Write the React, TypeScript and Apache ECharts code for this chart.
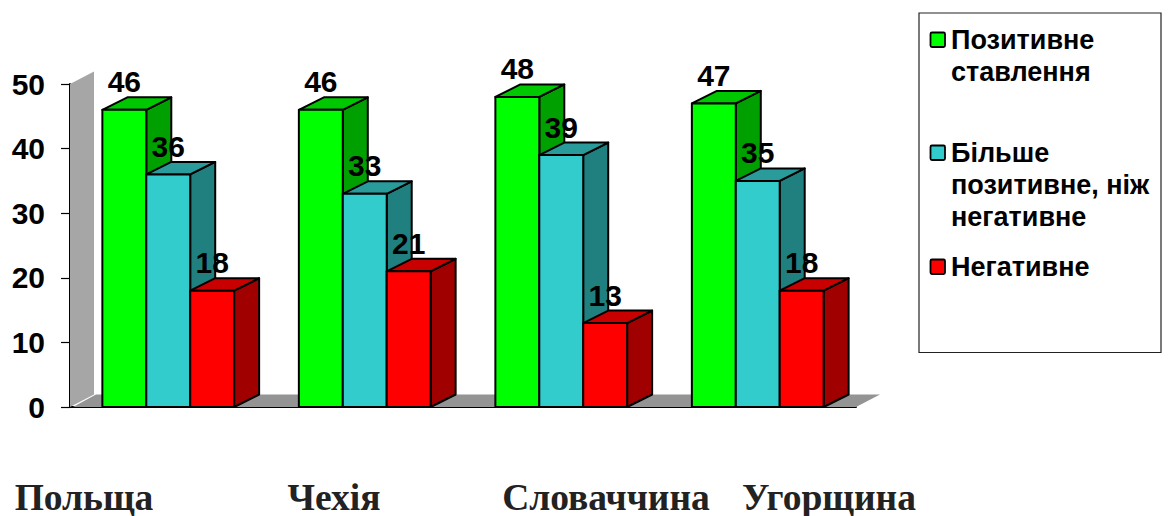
import React, { useEffect, useRef } from "react";
import * as echarts from "echarts";

const countries = ["Польща", "Чехія", "Словаччина", "Угорщина"];
const countryLabelX = [84, 334, 606, 829];
const positive = [46, 46, 48, 47];
const ratherPositive = [36, 33, 39, 35];
const negative = [18, 21, 13, 18];
const yTicks = { min: 0, max: 50, interval: 10 };

const palette = [
  { front: "#00ff00", top: "#00c800", side: "#00a000" },
  { front: "#33cccc", top: "#299b9b", side: "#208080" },
  { front: "#ff0000", top: "#c80000", side: "#a00000" },
];

const legendRows = [
  { lines: ["Позитивне", "ставлення"], y: 40 },
  { lines: ["Більше", "позитивне, ніж", "негативне"], y: 153 },
  { lines: ["Негативне"], y: 267 },
];

const DEPTH_X = 25;
const DEPTH_Y = 12.5;
const SANS = '"Liberation Sans", Arial, sans-serif';
const SERIF = '"Liberation Serif", "Times New Roman", serif';

// Side wall and floor of the pseudo-3D plot box.
const renderBackdrop = (params: any, api: any) => {
  const { x, y, width, height } = params.coordSys;
  const bottom = y + height;
  const right = x + width;
  return {
    type: "group",
    children: [
      {
        type: "polygon",
        shape: {
          points: [
            [x, y],
            [x + DEPTH_X - 1, y - DEPTH_Y],
            [x + DEPTH_X - 1, bottom - DEPTH_Y],
            [x, bottom],
          ],
        },
        style: { fill: "#a6a6a6" },
      },
      {
        type: "polygon",
        shape: {
          points: [
            [x + 3, bottom],
            [x + DEPTH_X + 1, bottom - DEPTH_Y],
            [right + DEPTH_X - 1, bottom - DEPTH_Y],
            [right, bottom],
          ],
        },
        style: { fill: "#949494" },
      },
    ],
  };
};

// One extruded bar: side and top faces, front face, then the value above it.
const makeBarRenderer = (seriesPos: number) => (params: any, api: any) => {
  const cat = api.value(0);
  const val = api.value(1);
  const [cx, yTop] = api.coord([cat, val]);
  const [, yBase] = api.coord([cat, 0]);
  const band = api.size([1, 0])[0];
  const w = band * 0.2235;
  const x0 = cx + (seriesPos - 1.5) * w;
  const x1 = x0 + w;
  const c = palette[seriesPos];
  const edge = { stroke: "#000", lineWidth: 2, lineJoin: "round" };
  return {
    type: "group",
    children: [
      {
        type: "polygon",
        shape: {
          points: [
            [x1, yTop],
            [x1 + DEPTH_X, yTop - DEPTH_Y],
            [x1 + DEPTH_X, yBase - DEPTH_Y],
            [x1, yBase],
          ],
        },
        style: { fill: c.side, ...edge },
      },
      {
        type: "polygon",
        shape: {
          points: [
            [x0, yTop],
            [x0 + DEPTH_X, yTop - DEPTH_Y],
            [x1 + DEPTH_X, yTop - DEPTH_Y],
            [x1, yTop],
          ],
        },
        style: { fill: c.top, ...edge },
      },
      {
        type: "rect",
        shape: { x: x0, y: yTop, width: w, height: yBase - yTop },
        style: { fill: c.front, ...edge },
      },
      {
        type: "text",
        z2: 10,
        style: {
          x: x0 + w / 2,
          y: yTop - 13,
          text: String(val),
          align: "center",
          verticalAlign: "bottom",
          fill: "#000",
          font: `bold 30px ${SANS}`,
        },
      },
    ],
  };
};

const barSeries = [positive, ratherPositive, negative].map((values, i) => ({
  type: "custom" as const,
  name: legendRows[i].lines.join(" "),
  coordinateSystem: "cartesian2d",
  renderItem: makeBarRenderer(i),
  clip: false,
  z: 3,
  encode: { x: 0, y: 1 },
  data: values.map((v, idx) => [idx, v]),
}));

const legendGraphics: any[] = [
  {
    type: "rect",
    shape: { x: 919, y: 13, width: 242, height: 339.5 },
    style: { fill: "#fff", stroke: "#222", lineWidth: 1.2 },
  },
];
legendRows.forEach((row, i) => {
  legendGraphics.push({
    type: "rect",
    shape: { x: 930.5, y: row.y - 7.5, width: 14.5, height: 14.5, r: 1.5 },
    style: { fill: palette[i].front, stroke: "#000", lineWidth: 1.8 },
  });
  row.lines.forEach((line, j) => {
    legendGraphics.push({
      type: "text",
      style: {
        x: 951,
        y: row.y + j * 32,
        text: line,
        align: "left",
        verticalAlign: "middle",
        fill: "#000",
        font: `bold 27px ${SANS}`,
      },
    });
  });
});

const countryGraphics = countries.map((name, i) => ({
  type: "text",
  style: {
    x: countryLabelX[i],
    y: 497,
    text: name,
    align: "center",
    verticalAlign: "middle",
    fill: "#222",
    font: `bold 37.5px ${SERIF}`,
  },
}));

export default function App() {
  const ref = useRef<HTMLDivElement>(null);

  useEffect(() => {
    document.body.style.margin = "0";
    document.body.style.background = "#fff";
    const chart = echarts.init(ref.current!, null, { renderer: "svg" });
    chart.setOption({
      animation: false,
      backgroundColor: "#fff",
      grid: { left: 70, top: 84, width: 786, height: 323, containLabel: false },
      xAxis: {
        type: "category",
        data: countries,
        axisLine: { show: true, lineStyle: { color: "#000", width: 2 } },
        axisTick: { show: false },
        axisLabel: { show: false },
        splitLine: { show: false },
      },
      yAxis: {
        type: "value",
        min: yTicks.min,
        max: yTicks.max,
        interval: yTicks.interval,
        axisLine: { show: true, lineStyle: { color: "#000", width: 2 } },
        axisTick: { show: true, length: 9, lineStyle: { color: "#000", width: 1.2 } },
        axisLabel: {
          color: "#000",
          fontFamily: SANS,
          fontWeight: "bold",
          fontSize: 30,
          margin: 25,
        },
        splitLine: { show: false },
      },
      series: [
        {
          type: "custom",
          coordinateSystem: "cartesian2d",
          renderItem: renderBackdrop,
          silent: true,
          clip: false,
          z: 1,
          encode: { x: 0, y: 1 },
          data: [[0, 0]],
        },
        ...barSeries,
      ],
      graphic: { elements: [...legendGraphics, ...countryGraphics] },
    });
    return () => chart.dispose();
  }, []);

  return <div ref={ref} style={{ width: 1169, height: 516 }} />;
}
